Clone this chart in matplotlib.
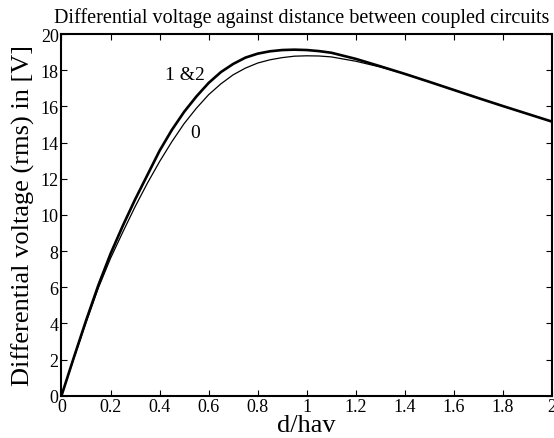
import numpy as np
import matplotlib.pyplot as plt

# =========================
# Data
# =========================
d = [0.0, 0.05, 0.1, 0.15, 0.2, 0.25, 0.3, 0.35, 0.4, 0.45, 0.5, 0.55, 0.6,
     0.65, 0.7, 0.75, 0.8, 0.85, 0.9, 0.95, 1.0, 1.05, 1.1, 1.2, 1.3, 1.4,
     1.5, 1.6, 1.7, 1.8, 1.9, 2.0]

# configurations 1 & 2 (thick line)
v_12 = [0.0, 2.1, 4.15, 6.1, 7.85, 9.4, 10.85, 12.2, 13.55, 14.7, 15.7, 16.55, 17.3,
        17.9, 18.35, 18.7, 18.92, 19.05, 19.12, 19.14, 19.12, 19.06, 18.97, 18.63, 18.22, 17.8,
        17.36, 16.91, 16.46, 16.02, 15.59, 15.16]

# configuration 0 (thin line)
v_0 = [0.0, 2.05, 4.05, 5.95, 7.6, 9.05, 10.45, 11.75, 12.95, 14.05, 15.05, 15.9, 16.65,
       17.25, 17.75, 18.12, 18.4, 18.58, 18.7, 18.78, 18.8, 18.79, 18.74, 18.5, 18.18, 17.8,
       17.36, 16.91, 16.46, 16.02, 15.59, 15.16]

x_ticks = [0, 0.2, 0.4, 0.6, 0.8, 1, 1.2, 1.4, 1.6, 1.8, 2]
y_ticks = [0, 2, 4, 6, 8, 10, 12, 14, 16, 18, 20]

# =========================
# Plot
# =========================
plt.rcParams["font.family"] = "Liberation Serif"
fig = plt.figure(figsize=(5.54, 4.39), dpi=100)
ax = fig.add_axes([0.111, 0.0964, 0.8854, 0.8236])

ax.plot(d, v_0, color="black", linewidth=0.9)
ax.plot(d, v_12, color="black", linewidth=1.9)

ax.text(0.505, 17.75, "1 &2", fontsize=14, ha="center", va="center")
ax.text(0.545, 14.55, "0", fontsize=14, ha="center", va="center")

# =========================
# Axes and labels
# =========================
ax.set_xlim(0, 2)
ax.set_ylim(0, 20)
ax.set_xticks(x_ticks)
ax.set_xticklabels([f"{t:g}" for t in x_ticks])
ax.set_yticks(y_ticks)
ax.tick_params(axis="both", direction="in", top=True, right=True,
               labelsize=13, length=4, width=0.8, pad=2)
for s in ax.spines.values():
    s.set_linewidth(1.5)

ax.set_xlabel("d/hav", fontsize=19, labelpad=-1)
ax.set_ylabel("Differential voltage (rms) in [V]", fontsize=19, labelpad=4)
ax.set_title("Differential voltage against distance between coupled circuits",
             fontsize=14.5, pad=9, x=0.49)

plt.savefig("out.png", dpi=100)
